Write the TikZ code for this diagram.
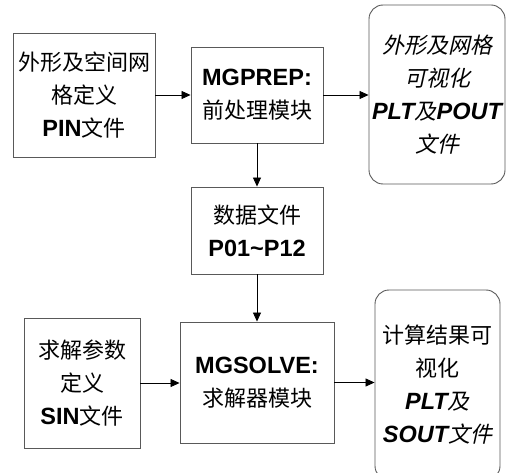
\documentclass[tikz,border=0pt]{standalone}
\usepackage{fontspec}
\setmainfont{Liberation Sans}
\newfontfamily\cjk{Noto Sans CJK SC}
\newfontfamily\cjkit[FakeSlant=0.22]{Noto Sans CJK SC}
\usetikzlibrary{arrows.meta}
\newcommand{\zh}[1]{{\cjk #1}}
\newcommand{\zhi}[1]{{\cjkit #1}}
\newcommand{\en}[1]{{\fontsize{23.5}{33}\selectfont\bfseries #1}}
\newcommand{\eni}[1]{{\fontsize{23.5}{33}\selectfont\bfseries\itshape #1}}
\begin{document}
\begin{tikzpicture}[x=1pt,y=-1pt,
  box/.style={draw=black!65,line width=0.9pt,align=center,inner sep=0pt,
    font=\fontsize{22}{33}\selectfont},
  rbox/.style={box,rounded corners=14pt},
  link/.style={-{Triangle[length=9pt,width=8pt]},line width=0.8pt,black}]
\useasboundingbox (0,0) rectangle (506,473);
\begin{scope}
\clip (0,0) rectangle (506,473);
\node[box,minimum width=142pt,minimum height=124pt] (pin) at (84,95)
  {\zh{外形及空间网}\\\zh{格定义}\\\en{PIN}\zh{文件}};
\node[box,minimum width=132pt,minimum height=96pt] (prep) at (257,95)
  {\en{MGPREP:}\\\zh{前处理模块}};
\node[rbox,minimum width=136pt,minimum height=179pt] (pout) at (437,94.5)
  {\zhi{外形及网格}\\\zhi{可视化}\\\eni{PLT}\zhi{及}\eni{POUT}\\\zhi{文件}};
\node[box,minimum width=132pt,minimum height=87pt] (data) at (257,230.5)
  {\zh{数据文件}\\\en{P01\textasciitilde P12}};
\node[box,minimum width=116pt,minimum height=130pt] (sin) at (82,383)
  {\zh{求解参数}\\\zh{定义}\\\en{SIN}\zh{文件}};
\node[box,minimum width=154pt,minimum height=121pt] (solve) at (257,382.5)
  {\en{MGSOLVE:}\\\zh{求解器模块}};
\node[rbox,minimum width=125pt,minimum height=190pt] (sout) at (437.5,385)
  {\zh{计算结果可}\\\zh{视化}\\\eni{PLT}\zhi{及}\\\eni{SOUT}\zhi{文件}};
\end{scope}
\draw[link] (pin.east) -- (prep.west);
\draw[link] (prep.east) -- (prep.east -| pout.west);
\draw[link] (prep.south) -- (data.north);
\draw[link] (data.south) -- (solve.north);
\draw[link] (sin.east) -- (sin.east -| solve.west);
\draw[link] (solve.east) -- (solve.east -| sout.west);
\end{tikzpicture}
\end{document}
